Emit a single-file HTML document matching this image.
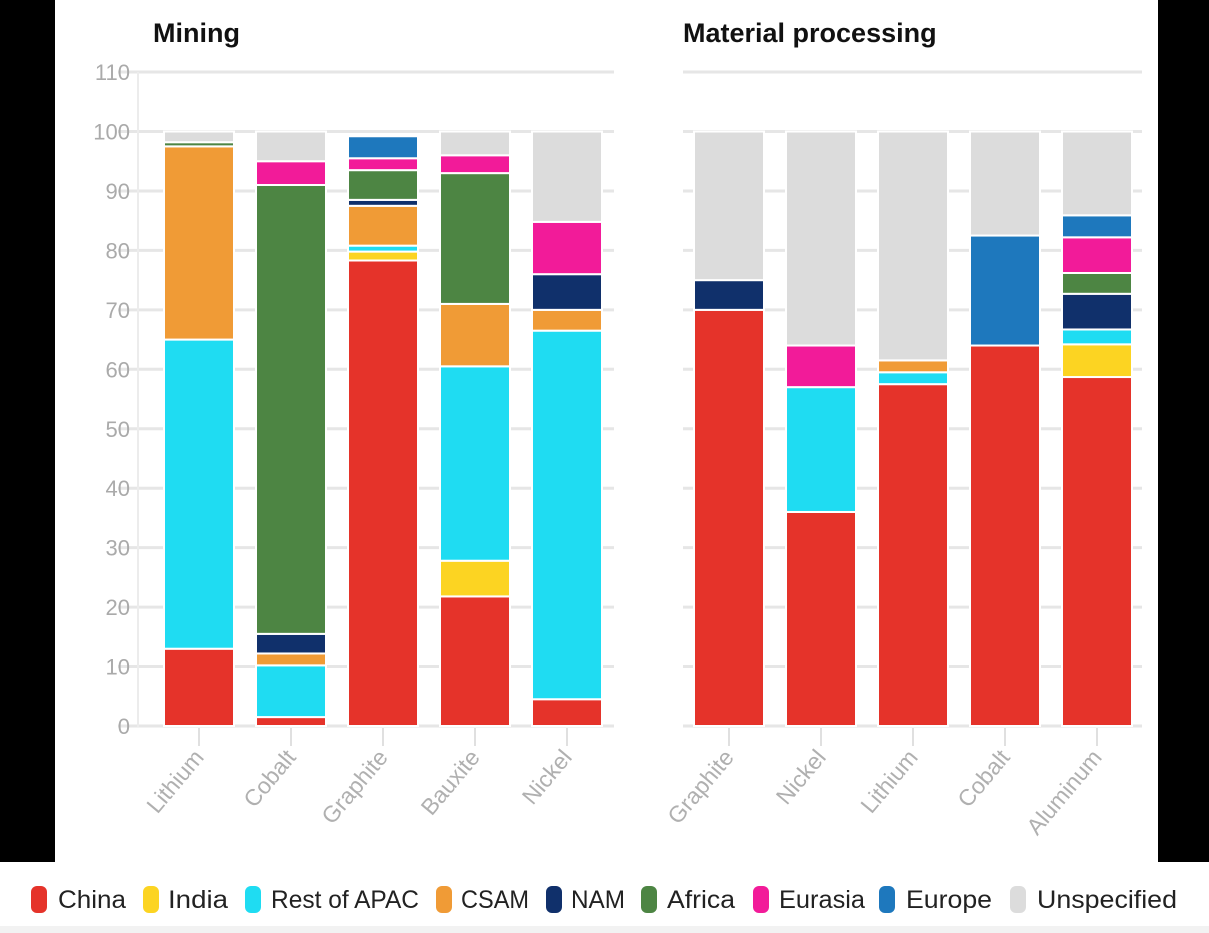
<!DOCTYPE html>
<html><head><meta charset="utf-8"><style>
html,body{margin:0;padding:0;background:#fff;}
svg{display:block;font-family:"Liberation Sans",sans-serif;}
</style></head><body>
<svg id="chart" width="1209" height="933" viewBox="0 0 1209 933" xmlns="http://www.w3.org/2000/svg">
<rect x="0" y="0" width="1209" height="933" fill="#fff"/>
<rect x="0" y="0" width="55" height="862" fill="#000"/>
<rect x="1158" y="0" width="51" height="862" fill="#000"/>
<rect x="0" y="926" width="1209" height="7" fill="#f2f2f2"/>
<text x="153" y="42" font-size="27" font-weight="bold" fill="#111">Mining</text>
<text x="683" y="42" font-size="27" font-weight="bold" fill="#111">Material processing</text>
<g id="grid"></g><g id="bars"></g><g id="xlab"></g><g id="legend"></g>
</svg>
<script>
const seriesNames=["China","India","Rest of APAC","CSAM","NAM","Africa","Eurasia","Europe","Unspecified"];
const colors=["#e5332a","#fcd422","#1fdcf2","#f09b36","#10306b","#4d8543","#f21b99","#1e78bd","#dcdcdc"];
const yTicks=[0,10,20,30,40,50,60,70,80,90,100,110];
const miningCats=["Lithium","Cobalt","Graphite","Bauxite","Nickel"];
const miningChina=[13,1.5,78.3,21.8,4.5];
const miningIndia=[0,0,1.5,6,0];
const miningAPAC=[52,8.7,1,32.7,62];
const miningCSAM=[32.5,2,6.7,10.5,3.5];
const miningNAM=[0,3.3,1,0,6];
const miningAfrica=[0.7,75.5,5,22,0];
const miningEurasia=[0,4,2,3,8.8];
const miningEurope=[0,0,3.7,0,0];
const miningUnspec=[1.8,5,0,4,15.2];
const procCats=["Graphite","Nickel","Lithium","Cobalt","Aluminum"];
const procChina=[70,36,57.5,64,58.7];
const procIndia=[0,0,0,0,5.5];
const procAPAC=[0,21,2,0,2.5];
const procCSAM=[0,0,2,0,0];
const procNAM=[5,0,0,0,6];
const procAfrica=[0,0,0,0,3.5];
const procEurasia=[0,7,0,0,6];
const procEurope=[0,0,0,18.5,3.7];
const procUnspec=[25,36,38.5,17.5,14.1];

const NS="http://www.w3.org/2000/svg";
function mk(t,a,p){const e=document.createElementNS(NS,t);for(const k in a)e.setAttribute(k,a[k]);p.appendChild(e);return e;}
const y=v=>726-v*5.945;
const grid=document.getElementById('grid'),bars=document.getElementById('bars'),xlab=document.getElementById('xlab'),leg=document.getElementById('legend');

yTicks.forEach(t=>{
  const l=mk('line',{x1:118,x2:614,y1:y(t),y2:y(t),stroke:'#e6e6e6','stroke-width':3},grid);
  
  
  const l2=mk('line',{x1:683,x2:1142,y1:y(t),y2:y(t),stroke:'#e6e6e6','stroke-width':3},grid);
  
  
  const tx=mk('text',{x:130,y:y(t)+8,'font-size':22,fill:'#aaa','text-anchor':'end'},grid);
  tx.textContent=t;
  
  
});
const ax=mk('line',{x1:138,x2:138,y1:72,y2:727,stroke:'#ececec','stroke-width':2},grid);



function panel(cats,series,x0,step,prefix){
  cats.forEach((c,i)=>{
    const bx=x0+i*step, cx=bx+35;
    let acc=0;
    series.forEach((s,k)=>{
      const v=s[i]; if(v<=0) return;
      const r=mk('rect',{x:bx,y:y(acc+v),width:70,height:v*5.945,fill:colors[k],stroke:'#fff','stroke-width':2},bars);
      
      
      acc+=v;
    });
    const tk=mk('line',{x1:cx,x2:cx,y1:728,y2:746,stroke:'#e0e0e0','stroke-width':2},xlab);
    
    
    const t=mk('text',{x:cx+6,y:758,'font-size':23,fill:'#b0b0b0','text-anchor':'end',transform:`rotate(-50 ${cx+6} 758)`},xlab);
    t.textContent=c;
    
    
  });
}
panel(miningCats,[miningChina,miningIndia,miningAPAC,miningCSAM,miningNAM,miningAfrica,miningEurasia,miningEurope,miningUnspec],164,92,'mining');
panel(procCats,[procChina,procIndia,procAPAC,procCSAM,procNAM,procAfrica,procEurasia,procEurope,procUnspec],694,92,'processing');

const legSw=[31,143,245,436,546,641,753,879,1010];
const legTx=[58,168,271,461,571,667,779,906,1037];
const legW=[68,60,148,68,54,68,86,86,140];
seriesNames.forEach((n,i)=>{
  const r=mk('rect',{x:legSw[i],y:886,width:16,height:27,rx:6,fill:colors[i]},leg);
  
  
  const t=mk('text',{x:legTx[i],y:908,'font-size':25,fill:'#222',textLength:legW[i],lengthAdjust:'spacingAndGlyphs'},leg);
  t.textContent=n;
  
  
});
</script>
</body></html>
